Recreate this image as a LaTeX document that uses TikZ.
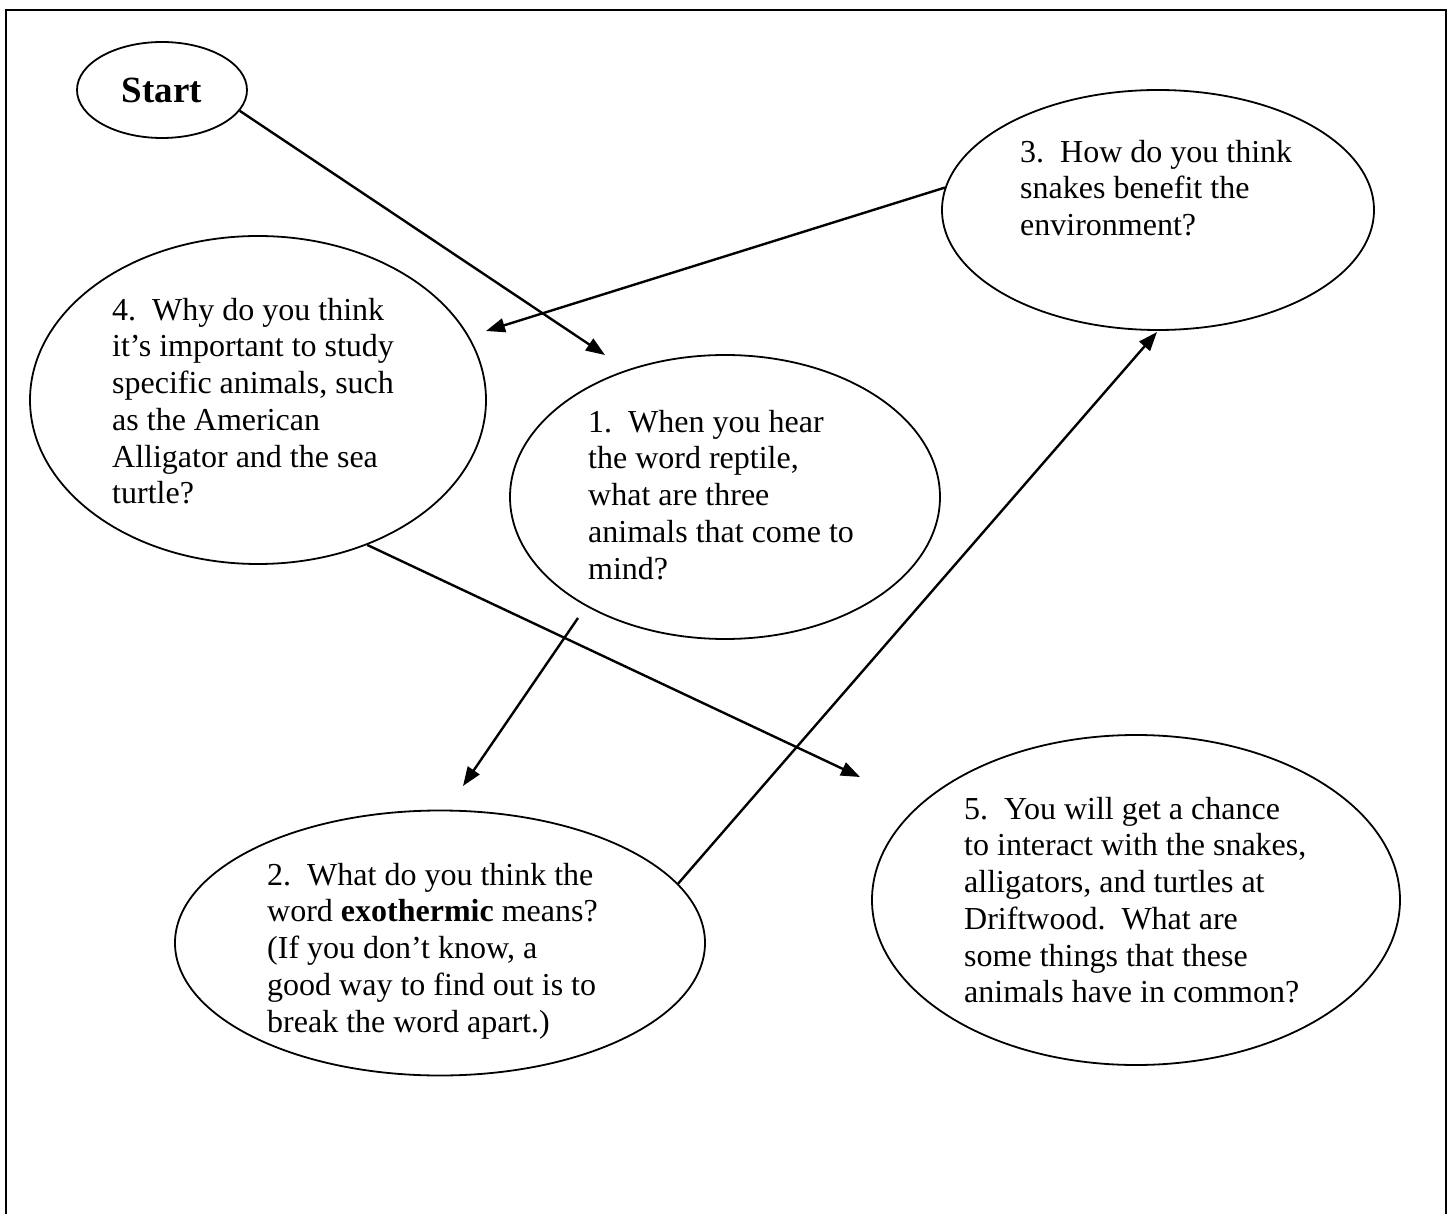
\documentclass[tikz,border=0pt]{standalone}
\usepackage{fontspec}
\setmainfont{Liberation Serif}
\usetikzlibrary{shapes.geometric,arrows.meta}
\begin{document}
\begin{tikzpicture}[x=1pt,y=-1pt,
  oval/.style={draw, ellipse, line width=1.8pt, inner sep=0pt},
  qtext/.style={anchor=north west, inner sep=0pt, align=left, font=\fontsize{32}{36.7}\selectfont},
  arr/.style={line width=2.4pt, -{Triangle[length=19pt,width=14pt]}},
  frame/.style={line width=2.2pt}]
\useasboundingbox (0,0) rectangle (1452,1214);
\draw[frame] (6,1250) -- (6,10) -- (1446,10) -- (1446,1250);
% ellipses
\node[oval, minimum width=170pt, minimum height=96pt, font=\bfseries\fontsize{37}{40}\selectfont] (start) at (162,90) {Start};
\node[oval, minimum width=432pt, minimum height=240pt] (e3) at (1158,210) {};
\node[oval, minimum width=456pt, minimum height=328pt] (e4) at (258,400) {};
\node[oval, minimum width=430pt, minimum height=284pt] (e1) at (725,497) {};
\node[oval, minimum width=530pt, minimum height=265pt] (e2) at (440,943) {};
\node[oval, minimum width=528pt, minimum height=330pt] (e5) at (1136,900) {};
% texts
\node[qtext] (t3) at (1020,134) {\rule{0pt}{28pt}3.\ \ How do you think\\snakes benefit the\\environment?};
\node[qtext] (t4) at (112,292) {\rule{0pt}{28pt}4.\ \ Why do you think\\it’s important to study\\specific animals, such\\as the American\\Alligator and the sea\\turtle?};
\node[qtext] (t1) at (588,404) {\rule{0pt}{28pt}1.\ \ When you hear\\the word reptile,\\what are three\\animals that come to\\mind?};
\node[qtext] (t2) at (267,857) {\rule{0pt}{28pt}2.\ \ What do you think the\\word \textbf{exothermic} means?\\(If you don’t know, a\\good way to find out is to\\break the word apart.)};
\node[qtext] (t5) at (964,791) {\rule{0pt}{28pt}5.\ \ You will get a chance\\to interact with the snakes,\\alligators, and turtles at\\Driftwood.\ \ What are\\some things that these\\animals have in common?};
% connector ends
\coordinate (p1) at (605,355);
\coordinate (p4) at (486,331);
\coordinate (q1) at (578,618);
\coordinate (p2) at (463,786);
\coordinate (p3) at (1157,332);
\coordinate (p5) at (860,777);
\draw[arr] (start.-15) -- (p1);
\draw[arr] (e3.174) -- (p4);
\draw[arr] (q1) -- (p2);
\draw[arr] (e2.14) -- (p3);
\draw[arr] (e4.-53) -- (p5);
\end{tikzpicture}
\end{document}
